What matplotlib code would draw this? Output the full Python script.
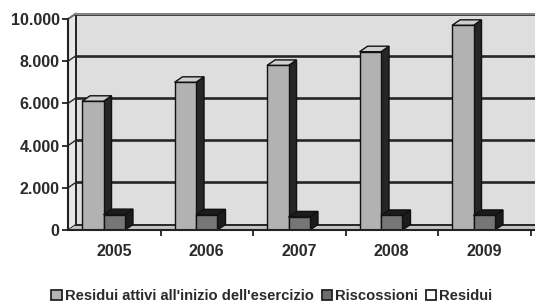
import matplotlib
matplotlib.use("Agg")
import matplotlib.pyplot as plt
from matplotlib.patches import Polygon, Patch

years = ["2005", "2006", "2007", "2008", "2009"]
residui_attivi = [6100, 7000, 7800, 8450, 9700]
riscossioni = [730, 720, 620, 690, 690]
residui = [0, 0, 0, 0, 0]
series_names = ["Residui attivi all'inizio dell'esercizio", "Riscossioni", "Residui"]
yticks = [0, 2000, 4000, 6000, 8000, 10000]
ytick_labels = ["0", "2.000", "4.000", "6.000", "8.000", "10.000"]

W, H = 535, 307
fig = plt.figure(figsize=(W / 100, H / 100), dpi=100)
fig.patch.set_facecolor("white")

left_px, bottom_px, top_px = 68, 230, 19
cat_px = 92.5
ax = fig.add_axes([left_px / W, 1 - bottom_px / H, (W - left_px) / W, (bottom_px - top_px) / H])
xmin = -0.5
xmax = xmin + (W - left_px) / cat_px
ax.set_xlim(xmin, xmax)
ax.set_ylim(0, 10000)
ax.set_facecolor("none")

dx = 8 / cat_px
dy = 5.5 * 10000 / (bottom_px - top_px)

wall_col = "#dedede"
floor_col = "#c4c4c4"
grid_col = "#262626"

# back wall
ax.add_patch(Polygon([(xmin + dx, dy), (xmax + 1, dy), (xmax + 1, 10000 + dy), (xmin + dx, 10000 + dy)],
                     closed=True, facecolor=wall_col, edgecolor="none", clip_on=False, zorder=0))
# left side wall
ax.add_patch(Polygon([(xmin, 0), (xmin + dx, dy), (xmin + dx, 10000 + dy), (xmin, 10000)],
                     closed=True, facecolor="#e8e8e8", edgecolor=grid_col, lw=1.0, clip_on=False, zorder=0.5))
# floor
ax.add_patch(Polygon([(xmin, 0), (xmax + 1, 0), (xmax + 1, dy), (xmin + dx, dy)],
                     closed=True, facecolor=floor_col, edgecolor="none", clip_on=False, zorder=0.5))
# gridlines
for t in yticks[1:]:
    ax.plot([xmin + dx, xmax + 1], [t + dy, t + dy], color=grid_col, lw=1.9, clip_on=False, zorder=1)
    ax.plot([xmin, xmin + dx], [t, t + dy], color=grid_col, lw=1.0, clip_on=False, zorder=1)
ax.plot([xmin + dx, xmax + 1], [dy, dy], color=grid_col, lw=1.4, clip_on=False, zorder=1)
ax.plot([xmin + dx, xmin + dx], [dy, 10000 + dy], color=grid_col, lw=1.4, clip_on=False, zorder=1)
ax.plot([xmin, xmin + dx], [10000, 10000 + dy], color="#777777", lw=1.0, clip_on=False, zorder=1)
ax.plot([xmin + dx, xmax + 1], [10000 + dy, 10000 + dy], color="#888888", lw=1.4, clip_on=False, zorder=1)

bw = 0.232
offsets = [-bw, 0.0, bw]
styles = [
    dict(front="#b2b2b2", top="#cfcfcf", side="#262626"),
    dict(front="#767676", top="#1c1c1c", side="#1c1c1c"),
    dict(front="#ffffff", top="#f0f0f0", side="#bbbbbb"),
]
legend_cols = ["#b4b4b4", "#6e6e6e", "#ffffff"]
data = [residui_attivi, riscossioni, residui]

z = 2
for i in range(len(years)):
    for s, vals in enumerate(data):
        v = vals[i]
        if v <= 0:
            continue
        st = styles[s]
        x0 = i + offsets[s] - bw / 2
        x1 = x0 + bw
        ax.add_patch(Polygon([(x1, 0), (x1 + dx, dy), (x1 + dx, v + dy), (x1, v)], closed=True,
                             facecolor=st["side"], edgecolor="#111111", lw=1.0, zorder=z))
        ax.add_patch(Polygon([(x0, v), (x1, v), (x1 + dx, v + dy), (x0 + dx, v + dy)], closed=True,
                             facecolor=st["top"], edgecolor="#111111", lw=1.0, zorder=z))
        ax.add_patch(Polygon([(x0, 0), (x1, 0), (x1, v), (x0, v)], closed=True,
                             facecolor=st["front"], edgecolor="#111111", lw=1.0, zorder=z))
        z += 1

for sp in ["top", "right"]:
    ax.spines[sp].set_visible(False)
for sp in ["left", "bottom"]:
    ax.spines[sp].set_color("#222222")
    ax.spines[sp].set_linewidth(1.5)
    ax.spines[sp].set_zorder(50)

txt_col = "#2a2a2a"
ax.set_yticks(yticks)
ax.set_yticklabels(ytick_labels, fontsize=11.5, fontweight="bold", color=txt_col, family="Liberation Sans")
ax.tick_params(axis="y", direction="out", length=4, width=1.3, color="#222222", pad=2)

ax.set_xticks(range(len(years)))
ax.set_xticklabels(years, fontsize=11.5, fontweight="bold", color=txt_col, family="Liberation Sans")
ax.tick_params(axis="x", which="major", length=0, pad=10)
ax.set_xticks([k + 0.5 for k in range(len(years))], minor=True)
ax.tick_params(axis="x", which="minor", direction="out", length=4, width=1.3, color="#222222")

handles = [Patch(facecolor=c, edgecolor="#222222", lw=1.3) for c in legend_cols]
leg = fig.legend(handles, series_names, loc="center", bbox_to_anchor=(0.508, 1 - 296 / H), ncol=3,
                 frameon=False, handlelength=0.7, handleheight=0.7, handletextpad=0.2,
                 columnspacing=0.55, prop=dict(family="Liberation Sans", weight="bold", size=10.6))
for t in leg.get_texts():
    t.set_color(txt_col)

fig.savefig("out.png", dpi=100, facecolor="white")
